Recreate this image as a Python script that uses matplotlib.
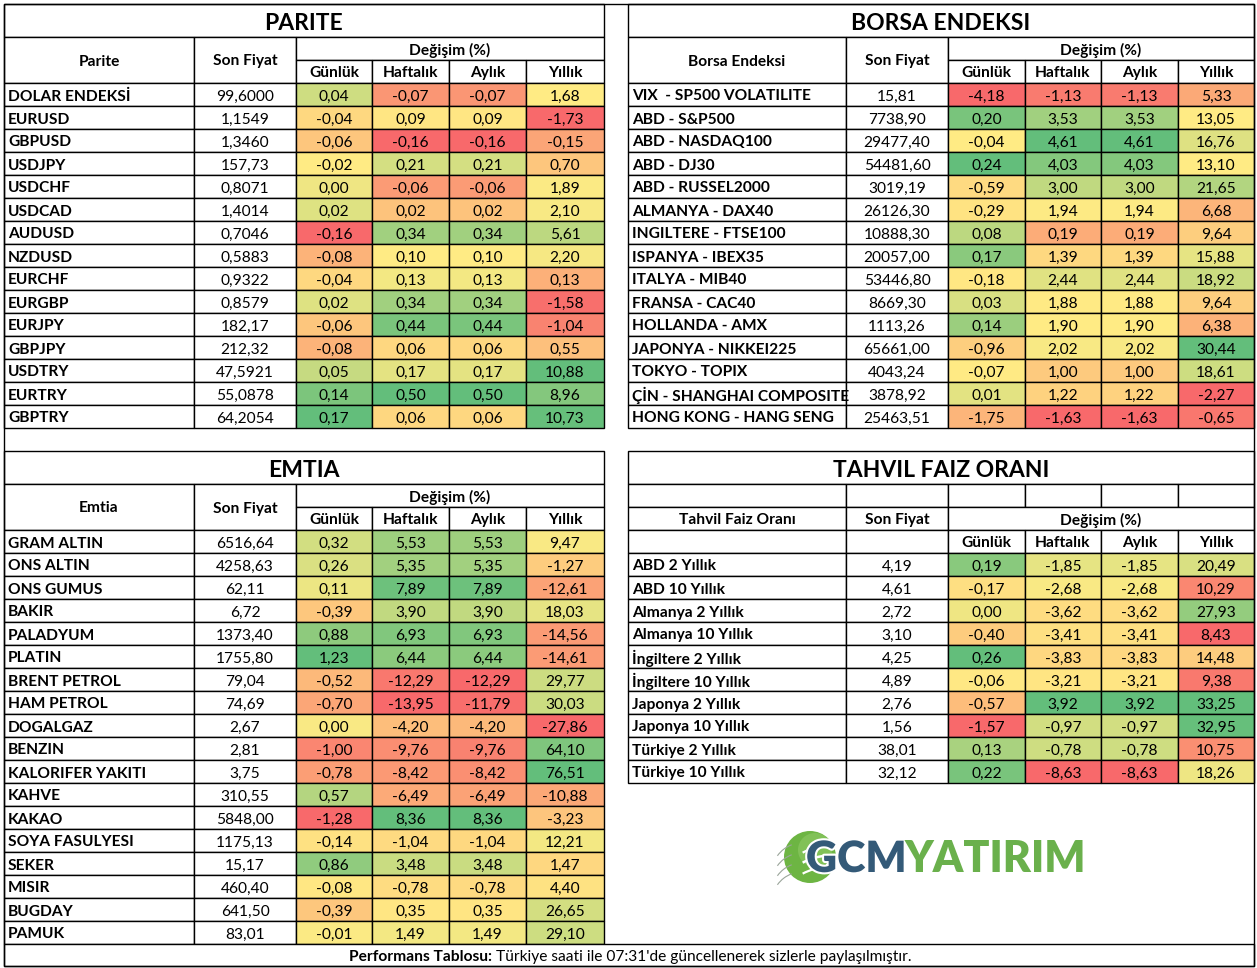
import numpy as np
import matplotlib
matplotlib.use("Agg")
import matplotlib.pyplot as plt
from matplotlib.patches import Rectangle, Circle, Arc
import matplotlib.patheffects as pe

plt.rcParams['font.family'] = ['Lato', 'DejaVu Sans']

# ---------------- DATA ----------------
parite_names = ["DOLAR ENDEKSİ", "EURUSD", "GBPUSD", "USDJPY", "USDCHF", "USDCAD", "AUDUSD",
                "NZDUSD", "EURCHF", "EURGBP", "EURJPY", "GBPJPY", "USDTRY", "EURTRY", "GBPTRY"]
parite_price = ["99,6000", "1,1549", "1,3460", "157,73", "0,8071", "1,4014", "0,7046", "0,5883",
                "0,9322", "0,8579", "182,17", "212,32", "47,5921", "55,0878", "64,2054"]
parite_gun = [0.04, -0.04, -0.06, -0.02, 0.00, 0.02, -0.16, -0.08, -0.04, 0.02, -0.06, -0.08, 0.05, 0.14, 0.17]
parite_haf = [-0.07, 0.09, -0.16, 0.21, -0.06, 0.02, 0.34, 0.10, 0.13, 0.34, 0.44, 0.06, 0.17, 0.50, 0.06]
parite_ayl = [-0.07, 0.09, -0.16, 0.21, -0.06, 0.02, 0.34, 0.10, 0.13, 0.34, 0.44, 0.06, 0.17, 0.50, 0.06]
parite_yil = [1.68, -1.73, -0.15, 0.70, 1.89, 2.10, 5.61, 2.20, 0.13, -1.58, -1.04, 0.55, 10.88, 8.96, 10.73]

borsa_names = ["VIX  - SP500 VOLATILITE", "ABD - S&P500", "ABD - NASDAQ100", "ABD - DJ30",
               "ABD - RUSSEL2000", "ALMANYA - DAX40", "INGILTERE - FTSE100", "ISPANYA - IBEX35",
               "ITALYA - MIB40", "FRANSA - CAC40", "HOLLANDA - AMX", "JAPONYA - NIKKEI225",
               "TOKYO - TOPIX", "ÇİN - SHANGHAI COMPOSITE", "HONG KONG - HANG SENG"]
borsa_price = ["15,81", "7738,90", "29477,40", "54481,60", "3019,19", "26126,30", "10888,30", "20057,00",
               "53446,80", "8669,30", "1113,26", "65661,00", "4043,24", "3878,92", "25463,51"]
borsa_gun = [-4.18, 0.20, -0.04, 0.24, -0.59, -0.29, 0.08, 0.17, -0.18, 0.03, 0.14, -0.96, -0.07, 0.01, -1.75]
borsa_haf = [-1.13, 3.53, 4.61, 4.03, 3.00, 1.94, 0.19, 1.39, 2.44, 1.88, 1.90, 2.02, 1.00, 1.22, -1.63]
borsa_ayl = [-1.13, 3.53, 4.61, 4.03, 3.00, 1.94, 0.19, 1.39, 2.44, 1.88, 1.90, 2.02, 1.00, 1.22, -1.63]
borsa_yil = [5.33, 13.05, 16.76, 13.10, 21.65, 6.68, 9.64, 15.88, 18.92, 9.64, 6.38, 30.44, 18.61, -2.27, -0.65]

emtia_names = ["GRAM ALTIN", "ONS ALTIN", "ONS GUMUS", "BAKIR", "PALADYUM", "PLATIN", "BRENT PETROL",
               "HAM PETROL", "DOGALGAZ", "BENZIN", "KALORIFER YAKITI", "KAHVE", "KAKAO",
               "SOYA FASULYESI", "SEKER", "MISIR", "BUGDAY", "PAMUK"]
emtia_price = ["6516,64", "4258,63", "62,11", "6,72", "1373,40", "1755,80", "79,04", "74,69", "2,67",
               "2,81", "3,75", "310,55", "5848,00", "1175,13", "15,17", "460,40", "641,50", "83,01"]
emtia_gun = [0.32, 0.26, 0.11, -0.39, 0.88, 1.23, -0.52, -0.70, 0.00, -1.00, -0.78, 0.57, -1.28, -0.14,
             0.86, -0.08, -0.39, -0.01]
emtia_haf = [5.53, 5.35, 7.89, 3.90, 6.93, 6.44, -12.29, -13.95, -4.20, -9.76, -8.42, -6.49, 8.36, -1.04,
             3.48, -0.78, 0.35, 1.49]
emtia_ayl = [5.53, 5.35, 7.89, 3.90, 6.93, 6.44, -12.29, -11.79, -4.20, -9.76, -8.42, -6.49, 8.36, -1.04,
             3.48, -0.78, 0.35, 1.49]
emtia_yil = [9.47, -1.27, -12.61, 18.03, -14.56, -14.61, 29.77, 30.03, -27.86, 64.10, 76.51, -10.88,
             -3.23, 12.21, 1.47, 4.40, 26.65, 29.10]

tahvil_names = ["ABD 2 Yıllık", "ABD 10 Yıllık", "Almanya 2 Yıllık", "Almanya 10 Yıllık",
                "İngiltere 2 Yıllık", "İngiltere 10 Yıllık", "Japonya 2 Yıllık", "Japonya 10 Yıllık",
                "Türkiye 2 Yıllık", "Türkiye 10 Yıllık"]
tahvil_price = ["4,19", "4,61", "2,72", "3,10", "4,25", "4,89", "2,76", "1,56", "38,01", "32,12"]
tahvil_gun = [0.19, -0.17, 0.00, -0.40, 0.26, -0.06, -0.57, -1.57, 0.13, 0.22]
tahvil_haf = [-1.85, -2.68, -3.62, -3.41, -3.83, -3.21, 3.92, -0.97, -0.78, -8.63]
tahvil_ayl = [-1.85, -2.68, -3.62, -3.41, -3.83, -3.21, 3.92, -0.97, -0.78, -8.63]
tahvil_yil = [20.49, 10.29, 27.93, 8.43, 14.48, 9.38, 33.25, 32.95, 10.75, 18.26]

sub_headers = ["Günlük", "Haftalık", "Aylık", "Yıllık"]
footer_bold = "Performans Tablosu:"
footer_text = " Türkiye saati ile 07:31'de güncellenerek sizlerle paylaşılmıştır."

# ---------------- STYLE ----------------
W, H = 1257, 968
LW = 1.0
FS = 11.2
TFS = 16.5
RED = np.array([248, 105, 107]) / 255
YEL = np.array([255, 235, 132]) / 255
GRN = np.array([99, 190, 123]) / 255
ROW = 23
TITLE_H = 33

fig = plt.figure(figsize=(W / 100, H / 100), dpi=100)
ax = fig.add_axes([0, 0, 1, 1])
ax.set_xlim(0, W)
ax.set_ylim(H, 0)
ax.axis('off')


def scale_colors(vals):
    v = np.asarray(vals, float)
    lo, mid, hi = v.min(), np.percentile(v, 50), v.max()
    out = []
    for x in v:
        if x <= mid:
            t = 0.0 if mid == lo else (x - lo) / (mid - lo)
            c = RED + (YEL - RED) * t
        else:
            t = 1.0 if hi == mid else (x - mid) / (hi - mid)
            c = YEL + (GRN - YEL) * t
        out.append(tuple(np.clip(c, 0, 1)))
    return out


def fmt(x):
    return f"{x:.2f}".replace('.', ',')


def cell(x0, x1, y0, y1, fc='white'):
    ax.add_patch(Rectangle((x0, y0), x1 - x0, y1 - y0, facecolor=fc, edgecolor='black', lw=LW, zorder=2))


def ctext(x, y, s, bold=False, size=FS, ha='center', color='black'):
    return ax.text(x, y, s, ha=ha, va='center_baseline', fontsize=size,
                   fontweight='bold' if bold else 'normal', color=color, zorder=3)


def data_rows(xe, y0, names, prices, cols):
    colors = [scale_colors(c) for c in cols]
    for i, nm in enumerate(names):
        r0 = y0 + i * ROW
        r1 = r0 + ROW
        cy = (r0 + r1) / 2 + 0.5
        cell(xe[0], xe[1], r0, r1)
        ctext(xe[0] + 4, cy, nm, bold=True, ha='left')
        cell(xe[1], xe[2], r0, r1)
        ctext((xe[1] + xe[2]) / 2, cy, prices[i])
        for j in range(4):
            cell(xe[2 + j], xe[3 + j], r0, r1, fc=colors[j][i])
            ctext((xe[2 + j] + xe[3 + j]) / 2, cy, fmt(cols[j][i]))


def std_table(xe, y, title, name_head, names, prices, cols):
    cell(xe[0], xe[-1], y, y + TITLE_H)
    ctext((xe[0] + xe[-1]) / 2, y + TITLE_H / 2 + 1, title, bold=True, size=TFS)
    y1 = y + TITLE_H
    cell(xe[0], xe[1], y1, y1 + 2 * ROW)
    ctext((xe[0] + xe[1]) / 2, y1 + ROW, name_head, bold=True)
    cell(xe[1], xe[2], y1, y1 + 2 * ROW)
    ctext((xe[1] + xe[2]) / 2, y1 + ROW, "Son Fiyat", bold=True)
    cell(xe[2], xe[6], y1, y1 + ROW)
    ctext((xe[2] + xe[6]) / 2, y1 + ROW / 2, "Değişim (%)", bold=True)
    for j, s in enumerate(sub_headers):
        cell(xe[2 + j], xe[3 + j], y1 + ROW, y1 + 2 * ROW)
        ctext((xe[2 + j] + xe[3 + j]) / 2, y1 + 1.5 * ROW, s, bold=True)
    data_rows(xe, y1 + 2 * ROW, names, prices, cols)


def tahvil_table(xe, y, title, name_head, names, prices, cols):
    cell(xe[0], xe[-1], y, y + TITLE_H)
    ctext((xe[0] + xe[-1]) / 2, y + TITLE_H / 2 + 1, title, bold=True, size=TFS)
    y1 = y + TITLE_H
    for j in range(6):
        cell(xe[j], xe[j + 1], y1, y1 + ROW)
    y2 = y1 + ROW
    cell(xe[0], xe[1], y2, y2 + ROW)
    ctext((xe[0] + xe[1]) / 2, y2 + ROW / 2, name_head, bold=True)
    cell(xe[1], xe[2], y2, y2 + ROW)
    ctext((xe[1] + xe[2]) / 2, y2 + ROW / 2, "Son Fiyat", bold=True)
    cell(xe[2], xe[6], y2, y2 + ROW)
    ctext((xe[2] + xe[6]) / 2, y2 + ROW / 2, "Değişim (%)", bold=True)
    y3 = y2 + ROW
    cell(xe[0], xe[1], y3, y3 + ROW)
    cell(xe[1], xe[2], y3, y3 + ROW)
    for j, s in enumerate(sub_headers):
        cell(xe[2 + j], xe[3 + j], y3, y3 + ROW)
        ctext((xe[2 + j] + xe[3 + j]) / 2, y3 + ROW / 2, s, bold=True)
    data_rows(xe, y3 + ROW, names, prices, cols)


XL = [4, 194, 296, 372, 449, 526, 604]
XR = [628, 846, 948, 1025, 1101, 1178, 1254]

# outer frame
ax.add_patch(Rectangle((4, 4), 1250, 962, facecolor='none', edgecolor='black', lw=LW, zorder=4))

std_table(XL, 4, "PARITE", "Parite", parite_names, parite_price,
          [parite_gun, parite_haf, parite_ayl, parite_yil])
std_table(XR, 4, "BORSA ENDEKSI", "Borsa Endeksi", borsa_names, borsa_price,
          [borsa_gun, borsa_haf, borsa_ayl, borsa_yil])
std_table(XL, 451, "EMTIA", "Emtia", emtia_names, emtia_price,
          [emtia_gun, emtia_haf, emtia_ayl, emtia_yil])
tahvil_table(XR, 451, "TAHVIL FAIZ ORANI", "Tahvil Faiz Oranı", tahvil_names, tahvil_price,
             [tahvil_gun, tahvil_haf, tahvil_ayl, tahvil_yil])

# footer row
cell(4, 1254, 944, 966)
fb = ctext(0, 955.5, footer_bold, bold=True, ha='left')
fr = ctext(0, 955.5, footer_text, ha='left')

# logo
globe_c = (810, 857)
ax.add_patch(Circle(globe_c, 26, facecolor='#6db543', edgecolor='none', zorder=3))
ax.add_patch(Circle((815, 850), 17, facecolor='#8fca66', edgecolor='none', zorder=3, alpha=0.6))
for dy, w in [(-12, 1.6), (-2, 1.8), (9, 1.6)]:
    ax.add_patch(Arc((835, globe_c[1] + dy + 40), 110, 80, theta1=225, theta2=300,
                     color='white', lw=w, zorder=3))
for dy in [-14, -4, 6, 15]:
    ax.add_patch(Arc((802, globe_c[1] + dy + 30), 60, 60, theta1=215, theta2=250,
                     color='#9aa59a', lw=0.8, zorder=3))
stroke = [pe.withStroke(linewidth=3, foreground='white')]
g1 = ax.text(806, 872, "GCM", ha='left', va='baseline', fontsize=31, fontweight='heavy',
             color='#345a78', zorder=5, path_effects=stroke)
g2 = ax.text(900, 872, "YATIRIM", ha='left', va='baseline', fontsize=31, fontweight='heavy',
             color='#6ab04c', zorder=5)

fig.canvas.draw()
r = fig.canvas.get_renderer()
wb = fb.get_window_extent(r).width
wr = fr.get_window_extent(r).width
x0 = 630 - (wb + wr) / 2
fb.set_x(x0)
fr.set_x(x0 + wb)
w1 = g1.get_window_extent(r).width
g2.set_x(806 + w1 - 2)

fig.savefig("out.png", dpi=100)
